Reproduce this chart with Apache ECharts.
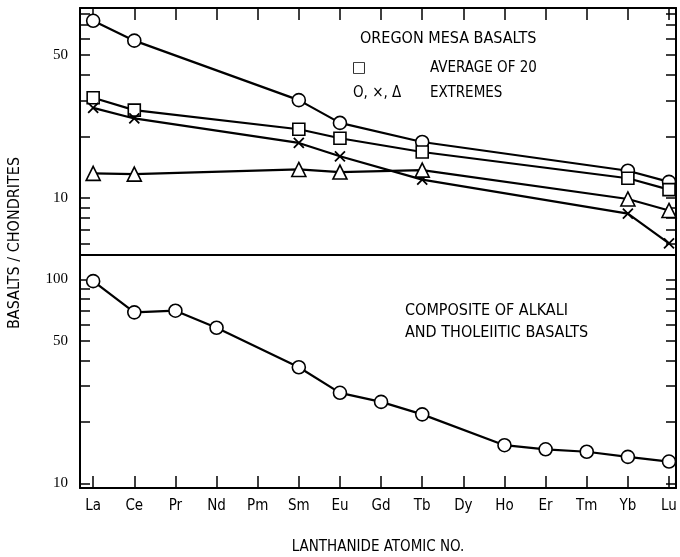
<!DOCTYPE html>
<html><head><meta charset="utf-8">
<script src="https://cdn.jsdelivr.net/npm/echarts@6/dist/echarts.min.js"></script>
<style>html,body{margin:0;padding:0;background:#fff}#c{width:680px;height:557px}</style>
</head><body><div id="c"></div>
<script>
const elements = ['La','Ce','Pr','Nd','Pm','Sm','Eu','Gd','Tb','Dy','Ho','Er','Tm','Yb','Lu'];
// Top panel: Oregon Mesa basalts (index into elements)
const oregonIdx = [0, 1, 5, 6, 8, 13, 14];
const extremeCircle = [73.5, 58.8, 30.1, 23.3, 18.8, 13.6, 12.0];
const average20 = [30.9, 26.9, 21.7, 19.6, 16.8, 12.5, 11.0];
const extremeCross = [27.6, 24.5, 18.6, 16.0, 12.3, 8.4, 6.0];
const extremeTriangle = [13.2, 13.1, 13.8, 13.4, 13.7, 9.9, 8.7];
// Bottom panel: composite of alkali and tholeiitic basalts
const compositeIdx = [0, 1, 2, 3, 5, 6, 7, 8, 10, 11, 12, 13, 14];
const composite = [98, 68.9, 70.2, 57.9, 37.1, 27.8, 25.1, 21.8, 15.4, 14.7, 14.3, 13.5, 12.8];
const topTicks = [6, 7, 8, 9, 10, 20, 30, 40, 50, 60, 70, 80];
const topLabels = [10, 50];
const bottomTicks = [10, 20, 30, 40, 50, 60, 70, 80, 90, 100];
const bottomLabels = [10, 50, 100];
const catTicks = elements.map((e, i) => i);

const FONT = "'Liberation Sans Narrow','DejaVu Sans Condensed',sans-serif";
const NUMFONT = "'Liberation Serif','DejaVu Serif',serif";
const pair = (idx, vals) => idx.map((k, i) => [k, vals[i]]);

const chart = echarts.init(document.getElementById('c'));
const axLine = { show: true, onZero: false, lineStyle: { color: '#000', width: 2 } };
const xBase = (grid, pos, ticks, labels) => ({
  type: 'value', gridIndex: grid, position: pos, min: -0.32, max: 14.17,
  axisLine: axLine, splitLine: { show: false },
  axisTick: ticks ? { show: true, inside: true, length: 12, customValues: catTicks, lineStyle: { color: '#000', width: 1.5 } } : { show: false },
  axisLabel: labels ? { show: true, customValues: catTicks, margin: 11, fontFamily: FONT, fontSize: 15, color: '#000',
    formatter: v => elements[Math.round(v)] } : { show: false }
});
const yBase = (grid, pos, min, max, ticks, labels) => ({
  type: 'log', logBase: 10, gridIndex: grid, position: pos, min: min, max: max,
  axisLine: axLine, splitLine: { show: false },
  axisTick: { show: true, inside: true, length: 10, customValues: ticks, lineStyle: { color: '#000', width: 1.5 } },
  axisLabel: labels ? { show: true, customValues: labels, margin: 12, fontFamily: NUMFONT, fontSize: 15, color: '#000' } : { show: false }
});
const mk = (name, xi, yi, data, symbol, size) => ({
  name, type: 'line', xAxisIndex: xi, yAxisIndex: yi, data,
  symbol, symbolSize: size, showSymbol: true,
  lineStyle: { color: '#000', width: 2.2 },
  itemStyle: { color: '#fff', borderColor: '#000', borderWidth: 1.6 },
  emphasis: { disabled: true }, z: 3
});

chart.setOption({
  animation: false,
  backgroundColor: '#fff',
  grid: [
    { left: 80, top: 8, width: 596, height: 247 },
    { left: 80, top: 255, width: 596, height: 233 }
  ],
  xAxis: [
    xBase(0, 'bottom', false, false),
    xBase(0, 'top', true, false),
    Object.assign(xBase(1, 'bottom', true, true), {
      name: 'LANTHANIDE ATOMIC NO.', nameLocation: 'middle', nameGap: 52,
      nameTextStyle: { fontFamily: FONT, fontSize: 15, color: '#000' }
    })
  ],
  yAxis: [
    yBase(0, 'left', 5.27, 84.9, topTicks, topLabels),
    yBase(0, 'right', 5.27, 84.9, topTicks, null),
    yBase(1, 'left', 9.5, 131.6, bottomTicks, bottomLabels),
    yBase(1, 'right', 9.5, 131.6, bottomTicks, null)
  ],
  series: [
    mk('extremes circle', 0, 0, pair(oregonIdx, extremeCircle), 'circle', 13),
    mk('average of 20', 0, 0, pair(oregonIdx, average20), 'rect', 12),
    Object.assign(mk('extremes cross', 0, 0, pair(oregonIdx, extremeCross), 'path://M0,0L10,10M10,0L0,10', 10),
      { itemStyle: { color: 'none', borderColor: '#000', borderWidth: 1.8 } }),
    mk('extremes triangle', 0, 0, pair(oregonIdx, extremeTriangle), 'triangle', 14),
    mk('composite', 2, 2, pair(compositeIdx, composite), 'circle', 13)
  ],
  graphic: [
    { type: 'text', left: 360, top: 31, style: { text: 'OREGON MESA BASALTS', font: '16px ' + FONT, fill: '#000' } },
    { type: 'text', left: 352, top: 61, style: { text: '□', font: '15px DejaVu Sans', fill: '#000' } },
    { type: 'text', left: 430, top: 61, style: { text: 'AVERAGE OF 20', font: '15px ' + FONT, fill: '#000' } },
    { type: 'text', left: 353, top: 86, style: { text: 'O, ×, Δ', font: '15px ' + FONT, fill: '#000' } },
    { type: 'text', left: 430, top: 86, style: { text: 'EXTREMES', font: '15px ' + FONT, fill: '#000' } },
    { type: 'text', left: 405, top: 303, style: { text: 'COMPOSITE OF ALKALI', font: '16px ' + FONT, fill: '#000' } },
    { type: 'text', left: 405, top: 325, style: { text: 'AND THOLEIITIC BASALTS', font: '16px ' + FONT, fill: '#000' } },
    { type: 'text', x: 15, y: 243, rotation: Math.PI / 2,
      style: { text: 'BASALTS / CHONDRITES', font: '16px ' + FONT, fill: '#000', align: 'center', verticalAlign: 'middle' } }
  ]
});
</script></body></html>
